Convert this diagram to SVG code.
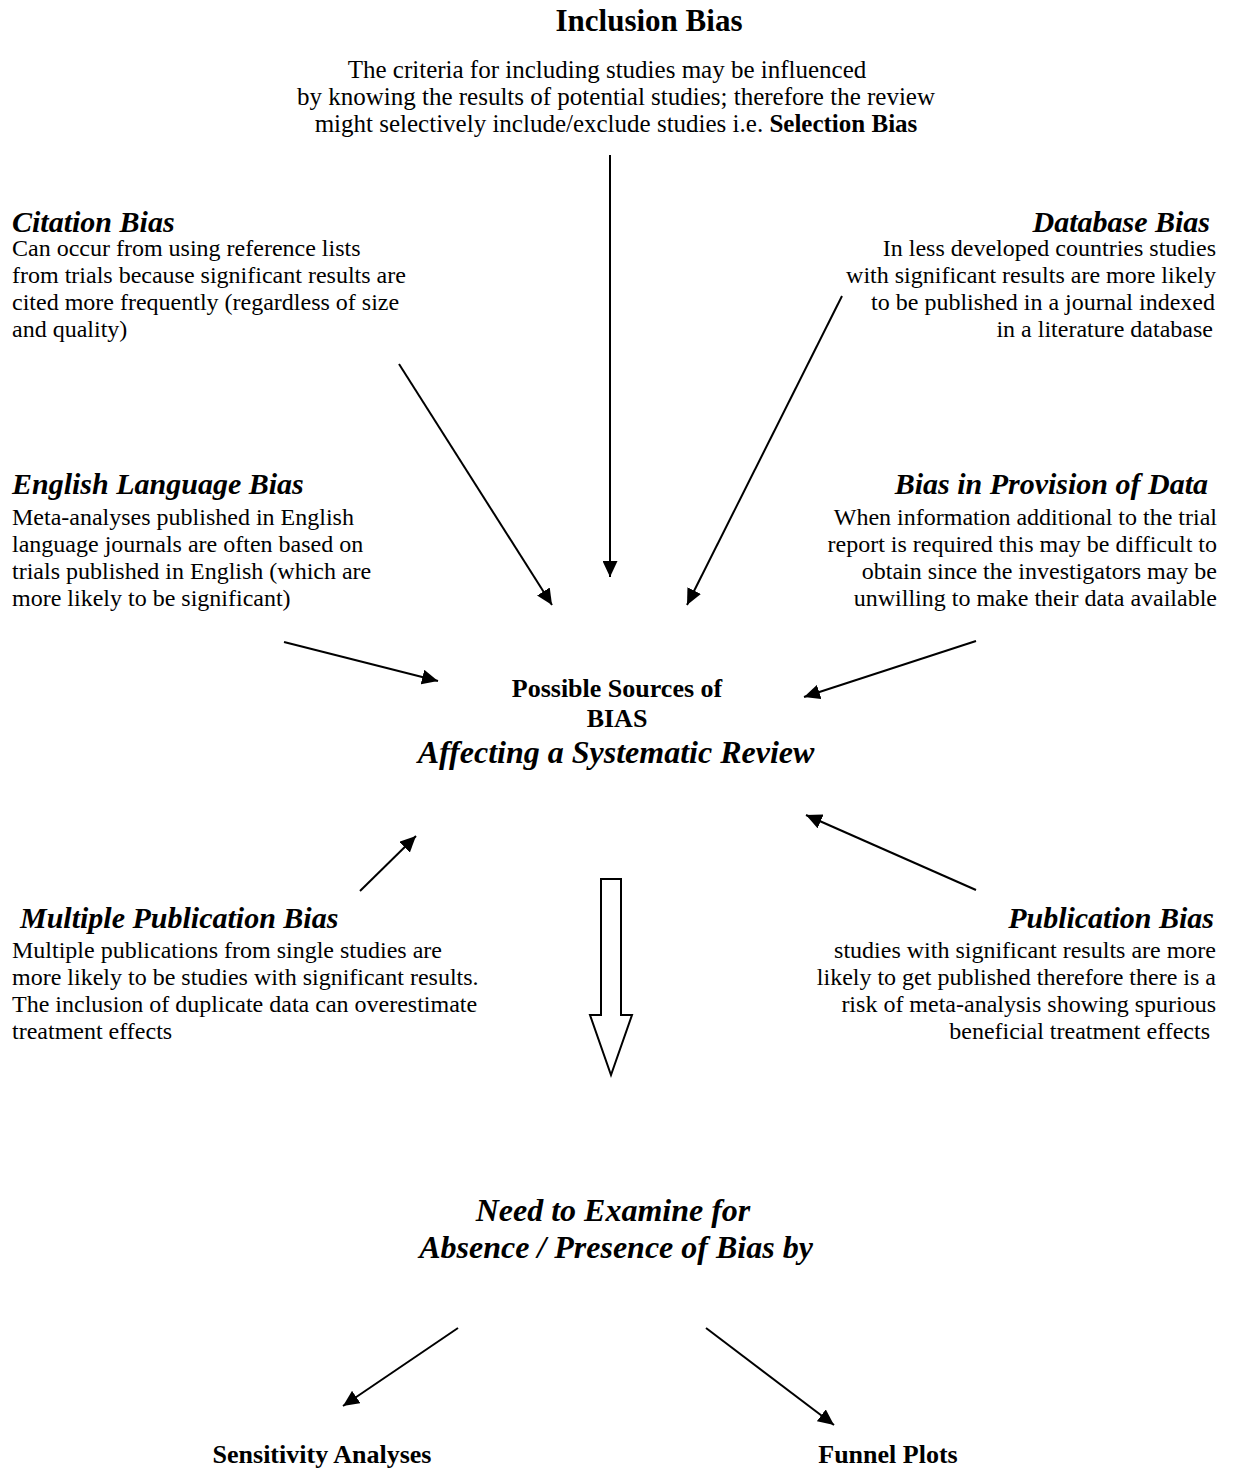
<svg xmlns="http://www.w3.org/2000/svg" width="1235" height="1471" viewBox="0 0 1235 1471">
<style>
text{font-family:"Liberation Serif","Times New Roman",serif;fill:#000}
.h{font-size:30px;font-weight:bold;font-style:italic}
.b{font-size:24px}
.t{font-size:25px}
.c{font-size:26px;font-weight:bold}
.ci{font-size:32px;font-weight:bold;font-style:italic}
.e{text-anchor:end}
.m{text-anchor:middle}
.ln{stroke:#000;stroke-width:2;fill:none}
</style>
<defs>
<marker id="ah" markerUnits="userSpaceOnUse" markerWidth="16" markerHeight="15" refX="16" refY="7.5" orient="auto">
<path d="M0,0 L16,7.5 L0,15 z" fill="#000"/>
</marker>
</defs>
<rect width="1235" height="1471" fill="#fff"/>
<g id="inclusion">
<text class="m" x="649" y="31" style="font-size:31px;font-weight:bold">Inclusion Bias</text>
<text class="t m" x="607" y="78">The criteria for including studies may be influenced</text>
<text class="t m" x="616" y="105">by knowing the results of potential studies; therefore the review</text>
<text class="t m" x="616" y="132">might selectively include/exclude studies i.e. <tspan font-weight="bold">Selection Bias</tspan></text>
</g>
<g id="citation">
<text class="h" x="12" y="232">Citation Bias</text>
<text class="b" x="12" y="256">Can occur from using reference lists</text>
<text class="b" x="12" y="283">from trials because significant results are</text>
<text class="b" x="12" y="310">cited more frequently (regardless of size</text>
<text class="b" x="12" y="337">and quality)</text>
</g>
<g id="database">
<text class="h e" x="1210" y="232">Database Bias</text>
<text class="b e" x="1216" y="256">In less developed countries studies</text>
<text class="b e" x="1216" y="283">with significant results are more likely</text>
<text class="b e" x="1215" y="310">to be published in a journal indexed</text>
<text class="b e" x="1213" y="337">in a literature database</text>
</g>
<g id="english">
<text class="h" x="12" y="494">English Language Bias</text>
<text class="b" x="12" y="525">Meta-analyses published in English</text>
<text class="b" x="12" y="552">language journals are often based on</text>
<text class="b" x="12" y="579">trials published in English (which are</text>
<text class="b" x="12" y="606">more likely to be significant)</text>
</g>
<g id="provision">
<text class="h e" x="1208" y="494">Bias in Provision of Data</text>
<text class="b e" x="1217" y="525">When information additional to the trial</text>
<text class="b e" x="1217" y="552">report is required this may be difficult to</text>
<text class="b e" x="1217" y="579">obtain since the investigators may be</text>
<text class="b e" x="1217" y="606">unwilling to make their data available</text>
</g>
<g id="center">
<text class="c m" x="617" y="697">Possible Sources of</text>
<text class="c m" x="617" y="727">BIAS</text>
<text class="ci m" x="616" y="763">Affecting a Systematic Review</text>
</g>
<g id="multiple">
<text class="h" x="20" y="928">Multiple Publication Bias</text>
<text class="b" x="12" y="958">Multiple publications from single studies are</text>
<text class="b" x="12" y="985">more likely to be studies with significant results.</text>
<text class="b" x="12" y="1012">The inclusion of duplicate data can overestimate</text>
<text class="b" x="12" y="1039">treatment effects</text>
</g>
<g id="publication">
<text class="h e" x="1214" y="928">Publication Bias</text>
<text class="b e" x="1216" y="958">studies with significant results are more</text>
<text class="b e" x="1216" y="985">likely to get published therefore there is a</text>
<text class="b e" x="1216" y="1012">risk of meta-analysis showing spurious</text>
<text class="b e" x="1210" y="1039">beneficial treatment effects</text>
</g>
<g id="examine">
<text class="ci m" x="613" y="1221">Need to Examine for</text>
<text class="ci m" x="616" y="1258">Absence / Presence of Bias by</text>
</g>
<g id="sensitivity">
<text class="c m" x="322" y="1463">Sensitivity Analyses</text>
</g>
<g id="funnel">
<text class="c m" x="888" y="1463">Funnel Plots</text>
</g>
<g id="connectors">
<line class="ln" x1="610" y1="155" x2="610" y2="577" marker-end="url(#ah)"/>
<line class="ln" x1="399" y1="364" x2="552" y2="605" marker-end="url(#ah)"/>
<line class="ln" x1="842" y1="296" x2="687" y2="605" marker-end="url(#ah)"/>
<line class="ln" x1="284" y1="642" x2="438" y2="681" marker-end="url(#ah)"/>
<line class="ln" x1="976" y1="641" x2="804" y2="697" marker-end="url(#ah)"/>
<line class="ln" x1="360" y1="891" x2="416" y2="836" marker-end="url(#ah)"/>
<line class="ln" x1="976" y1="890" x2="806" y2="815" marker-end="url(#ah)"/>
<line class="ln" x1="458" y1="1328" x2="343" y2="1406" marker-end="url(#ah)"/>
<line class="ln" x1="706" y1="1328" x2="834" y2="1425" marker-end="url(#ah)"/>
<polygon points="601,879 621,879 621,1015 632,1015 611,1075 590,1015 601,1015" fill="#fff" stroke="#000" stroke-width="2"/>
</g>
</svg>
